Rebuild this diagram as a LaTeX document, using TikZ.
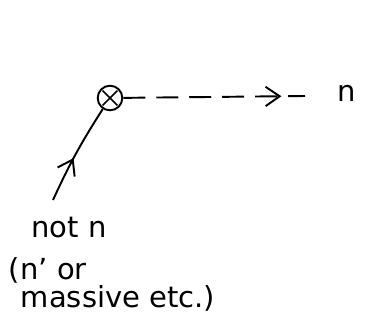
\documentclass[tikz,border=0pt]{standalone}
\usepackage{amsmath,amssymb}
\usepackage{fontspec}
\setmainfont{DejaVu Sans}
\usepackage{tikz}
\usetikzlibrary{arrows.meta,decorations.markings,positioning,calc}

\begin{document}
\begin{tikzpicture}[x=0.02cm, y=-0.02cm, line width=1.1pt,
  lbl/.style={font=\fontsize{16.5}{18}\selectfont, inner sep=0pt},
  midarrow/.style={postaction={decorate, decoration={markings,
    mark=at position #1 with {\arrow{Straight Barb[length=8pt,width=11pt]}}}}}]
\useasboundingbox (0,0) rectangle (365,329);
\node[draw, circle, minimum size=14pt, inner sep=0pt,
  path picture={\draw[line width=0.9pt] ($(path picture bounding box.north west)!0.2!(path picture bounding box.south east)$) -- ($(path picture bounding box.north west)!0.8!(path picture bounding box.south east)$)
    ($(path picture bounding box.north east)!0.2!(path picture bounding box.south west)$) -- ($(path picture bounding box.north east)!0.8!(path picture bounding box.south west)$);}] (vtx) at (110,98) {};
\coordinate (in) at (53,200);
\coordinate (out) at (305,96);
\draw[midarrow=0.45] (in) to[bend left=4] (vtx);
\draw[dash pattern=on 0.44cm off 0.22cm, midarrow=0.87] (vtx) -- (out);
\node[lbl] (n) at (347,93) {n};
\node[lbl] (notn) at (69,228) {not n};
\node[lbl, anchor=west] (alt) at (8,270) {(n' or};
\node[lbl, anchor=west] (mass) at (20,298) {massive etc.)};
\end{tikzpicture}
\end{document}
